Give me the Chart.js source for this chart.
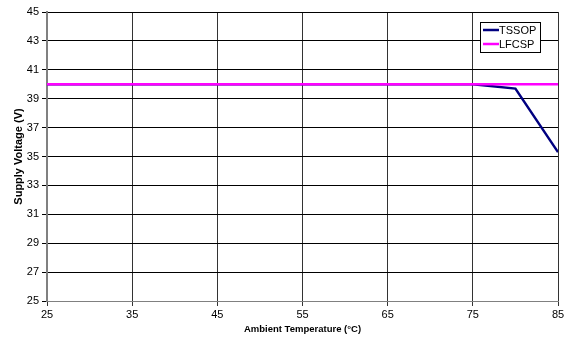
<!DOCTYPE html>
<html>
<head>
<meta charset="utf-8">
<script src="https://cdn.jsdelivr.net/npm/chart.js@4"></script>
<style>
  html, body { margin: 0; padding: 0; background: #fff; }
  #wrap { width: 570px; height: 339px; }
</style>
</head>
<body>
<div id="wrap"><canvas id="chart" width="570" height="339"></canvas></div>
<script>
// chart values
const temps = [25, 35, 45, 55, 65, 75, 80, 85];
const tssop = [40, 40, 40, 40, 40, 40, 39.7, 35.3];
const lfcsp = [40, 40, 40, 40, 40, 40, 40, 40];
const seriesNames = ['TSSOP', 'LFCSP'];
const xTicks = [25, 35, 45, 55, 65, 75, 85];
const yTicks = [25, 27, 29, 31, 33, 35, 37, 39, 41, 43, 45];

function toPoints(ys) {
    return temps.map((t, i) => ({ x: t, y: ys[i] }));
}

// boxed legend sitting inside the plot, top right
const boxLegend = {
    id: 'boxLegend',
    afterDraw(chart) {
        const ctx = chart.ctx;
        const area = chart.chartArea;
        const x0 = area.right - 78, y0 = area.top + 10;
        const w = 60, h = 30;
        ctx.save();
        ctx.fillStyle = '#fff';
        ctx.fillRect(x0, y0, w, h);
        ctx.strokeStyle = '#000';
        ctx.lineWidth = 1;
        ctx.strokeRect(x0 + 0.5, y0 + 0.5, w, h);
        ctx.font = '11px "Liberation Sans", Arial, sans-serif';
        ctx.textBaseline = 'middle';
        chart.data.datasets.forEach((ds, i) => {
            const cy = y0 + 8 + i * 14;
            ctx.strokeStyle = ds.borderColor;
            ctx.lineWidth = 2.5;
            ctx.beginPath();
            ctx.moveTo(x0 + 3, cy);
            ctx.lineTo(x0 + 19, cy);
            ctx.stroke();
            ctx.fillStyle = '#000';
            ctx.fillText(ds.label, x0 + 19, cy + 1);
        });
        ctx.restore();
    }
};

new Chart(document.getElementById('chart'), {
    type: 'line',
    data: {
        datasets: [{
            label: seriesNames[0],
            data: toPoints(tssop),
            borderColor: '#000080',
            borderWidth: 2.5,
            pointRadius: 0,
            tension: 0,
            order: 2
        }, {
            label: seriesNames[1],
            data: toPoints(lfcsp),
            borderColor: '#ff00ff',
            borderWidth: 2.5,
            pointRadius: 0,
            tension: 0,
            order: 1
        }]
    },
    options: {
        responsive: false,
        animation: false,
        layout: { padding: { top: 12, right: 12, bottom: 4, left: 8 } },
        plugins: {
            legend: { display: false },
            tooltip: { enabled: false }
        },
        scales: {
            x: {
                type: 'linear',
                min: 25,
                max: 85,
                afterBuildTicks: (s) => { s.ticks = xTicks.map(v => ({ value: v })); },
                afterFit: (s) => { s.height = 34; },
                grid: { color: '#333', tickLength: 5, lineWidth: 1 },
                border: { color: '#808080', width: 1 },
                ticks: {
                    color: '#000',
                    maxRotation: 0,
                    padding: 2,
                    font: { family: '"Liberation Sans", Arial, sans-serif', size: 11 }
                },
                title: {
                    display: true,
                    text: 'Ambient Temperature (°C)',
                    color: '#000',
                    padding: { top: 0, bottom: 0 },
                    font: { family: '"Liberation Sans", Arial, sans-serif', size: 9.5, weight: 'bold' }
                }
            },
            y: {
                min: 25,
                max: 45,
                afterBuildTicks: (s) => { s.ticks = yTicks.map(v => ({ value: v })); },
                afterFit: (s) => { s.width = 39; },
                grid: { color: '#000', tickLength: 5, lineWidth: 1 },
                border: { color: '#808080', width: 2 },
                ticks: {
                    color: '#000',
                    padding: 3,
                    font: { family: '"Liberation Sans", Arial, sans-serif', size: 11 }
                },
                title: {
                    display: true,
                    text: 'Supply Voltage (V)',
                    color: '#000',
                    padding: { top: 4, bottom: 0 },
                    font: { family: '"Liberation Sans", Arial, sans-serif', size: 11, weight: 'bold' }
                }
            }
        }
    },
    plugins: [boxLegend]
});
</script>
</body>
</html>
